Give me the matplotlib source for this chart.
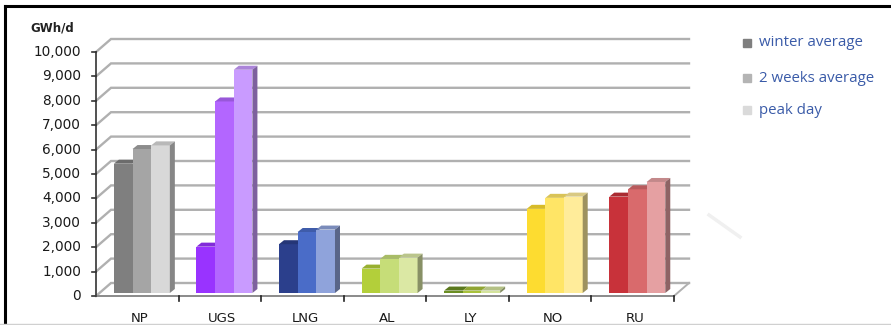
import matplotlib.pyplot as plt
from matplotlib.patches import Polygon
import matplotlib.colors as mcolors

# datos (GWh/d)
categorias = ['NP', 'UGS', 'LNG', 'AL', 'LY', 'NO', 'RU']
invierno = [5300, 1900, 2000, 1000, 100, 3450, 3950]
dos_semanas = [5900, 7850, 2500, 1400, 100, 3900, 4250]
pico = [6050, 9150, 2600, 1450, 100, 3950, 4550]
series = ['winter average', '2 weeks average', 'peak day']

colores = [
    ['#7f7f7f', '#a5a5a5', '#d8d8d8'],
    ['#9933ff', '#b366ff', '#c99bff'],
    ['#2b3f8c', '#4a6cc8', '#8fa3db'],
    ['#b3cf3a', '#c6dd78', '#dbe8a4'],
    ['#6b8e23', '#a9c23c', '#d4e39c'],
    ['#fddc30', '#ffe566', '#ffec9a'],
    ['#c8323a', '#d96a6c', '#e5a0a2'],
]
colores_leyenda = ['#7f7f7f', '#b4b4b4', '#dadada']

fig = plt.figure(figsize=(8.91, 3.25), dpi=100)
W, H = 891, 325
ax = fig.add_axes([96 / W, (H - 296) / H, 578 / W, 244 / H])
ax.set_xlim(0, 7)
ax.set_ylim(0, 10000)
ax.axis('off')

# pixeles -> unidades de datos
px_x = 7 / 578
px_y = 10000 / 244
pared_dx, pared_dy = 15 * px_x, 13 * px_y   # profundidad del fondo
barra_dx, barra_dy = 3 * px_x, 3 * px_y     # barras algo detras del frente
lado_dx, lado_dy = 5 * px_x, 4 * px_y       # grosor de la barra

gris = '#b0b0b0'
# lineas de la cuadricula (pared lateral + fondo)
for v in range(0, 10001, 1000):
    ax.plot([0, pared_dx, 7 + pared_dx], [v, v + pared_dy, v + pared_dy],
            color=gris, lw=1.7, clip_on=False, zorder=1, solid_joinstyle='miter')
# borde derecho del suelo
ax.plot([7, 7 + pared_dx], [0, pared_dy], color=gris, lw=1.4, clip_on=False, zorder=1)

# ejes
ax.plot([0, 0], [0, 10000], color='#333333', lw=1.2, clip_on=False, zorder=2)
ax.plot([0, 7], [0, 0], color='#8a8a8a', lw=1.4, clip_on=False, zorder=2)
for v in range(0, 10001, 1000):
    ax.plot([-4 * px_x, 0], [v, v], color='#333333', lw=1.2, clip_on=False, zorder=2)
    ax.text(-15 * px_x, v, f'{v:,}', ha='right', va='center', fontsize=9.8,
            color='#1a1a1a')
for i in range(1, 8):
    ax.plot([i, i], [0, -5 * px_y], color='#222222', lw=1.2, clip_on=False, zorder=2)
for i, c in enumerate(categorias):
    ax.text(i + 0.53, -22 * px_y, c, ha='center', va='center', fontsize=9.5,
            color='#1a1a1a')

ax.text(-66 * px_x, 10000 + 24 * px_y, 'GWh/d', ha='left', va='center',
        fontsize=8.5, fontweight='bold', color='#222222')


def oscurecer(c, f):
    r, g, b = mcolors.to_rgb(c)
    return (r * f, g * f, b * f)


# barras pseudo 3D
ancho = 0.226
datos = [invierno, dos_semanas, pico]
for i in range(len(categorias)):
    for j in range(3):
        v = datos[j][i]
        c = colores[i][j]
        x0 = i + 0.18 + j * ancho + barra_dx
        y0 = barra_dy
        ax.bar(x0, v, width=ancho, bottom=y0, align='edge', color=c,
               linewidth=0, zorder=3 + j, clip_on=False)
        techo = [(x0, y0 + v), (x0 + ancho, y0 + v),
                 (x0 + ancho + lado_dx, y0 + v + lado_dy), (x0 + lado_dx, y0 + v + lado_dy)]
        ax.add_patch(Polygon(techo, closed=True, facecolor=oscurecer(c, 0.85),
                             linewidth=0, zorder=3 + j, clip_on=False))
        if j == 2:
            lado = [(x0 + ancho, y0), (x0 + ancho + lado_dx, y0 + lado_dy),
                    (x0 + ancho + lado_dx, y0 + v + lado_dy), (x0 + ancho, y0 + v)]
            ax.add_patch(Polygon(lado, closed=True, facecolor=oscurecer(c, 0.62),
                                 linewidth=0, zorder=3 + j, clip_on=False))

# leyenda
for k, (s, c) in enumerate(zip(series, colores_leyenda)):
    y = 1 - [43, 78, 110][k] / H
    fig.patches.append(plt.Rectangle((743 / W, y - 4 / H), 8 / W, 8 / H,
                                     transform=fig.transFigure, color=c))
    fig.text(759 / W, y, s, ha='left', va='center', fontsize=10.8,
             color='#3a5ba8', family=['Open Sans', 'DejaVu Sans'])

# trazo gris muy claro que aparece en la imagen original
fig.add_artist(plt.Line2D([709 / W, 740 / W], [1 - 215 / H, 1 - 237 / H],
                          color='#f0f0f0', lw=2.5))

# marco del recuadro
fig.add_artist(plt.Line2D([4.5 / W, 4.5 / W], [0, 1 - 6 / H], color='black', lw=2.2))
fig.add_artist(plt.Line2D([4.5 / W, 1], [1 - 6 / H, 1 - 6 / H], color='black', lw=2.2))
fig.add_artist(plt.Line2D([0, 1], [1.5 / H, 1.5 / H], color='#d0d0d0', lw=1))

fig.savefig('out.png', dpi=100)
plt.close(fig)
